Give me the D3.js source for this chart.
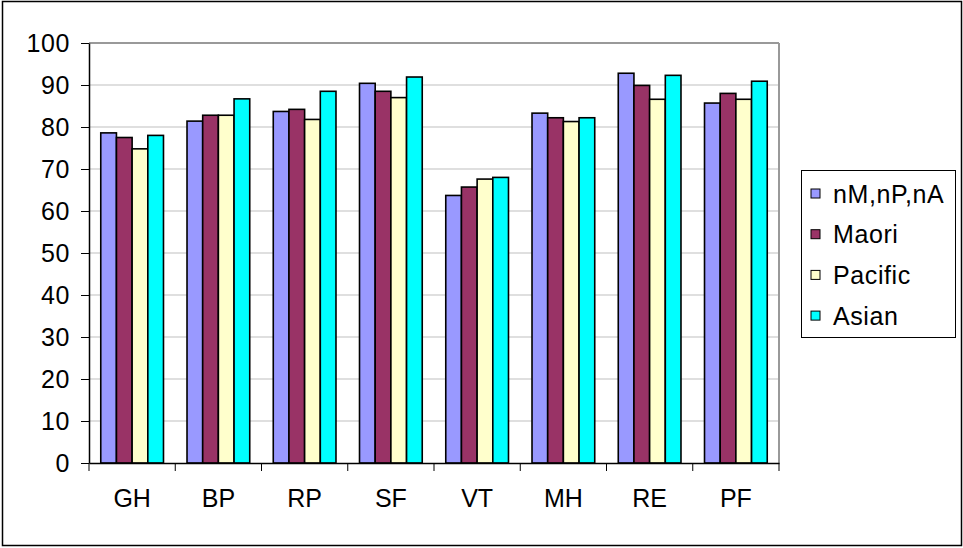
<!DOCTYPE html>
<html>
<head>
  <meta charset="utf-8">
  <title>Chart</title>
  <style>
    body { margin: 0; background: #fff; }
    text { font-family: "Liberation Sans", Arial, sans-serif; fill: #000; }
  </style>
</head>
<body>
  <svg width="963" height="548"></svg>
  <script src="https://cdnjs.cloudflare.com/ajax/libs/d3/7.8.5/d3.min.js"></script>
  <script>
    const categories = ["GH", "BP", "RP", "SF", "VT", "MH", "RE", "PF"];
    const seriesNames = ["nM,nP,nA", "Maori", "Pacific", "Asian"];
    const colors = ["#9999FF", "#993366", "#FFFFCC", "#00FFFF"];
    const nMnPnA = [78.6, 81.4, 83.7, 90.4, 63.7, 83.3, 92.8, 85.7];
    const maori = [77.5, 82.8, 84.2, 88.5, 65.7, 82.2, 89.9, 88.0];
    const pacific = [74.8, 82.8, 81.8, 87.0, 67.6, 81.3, 86.6, 86.6];
    const asian = [78.0, 86.7, 88.5, 91.9, 68.0, 82.2, 92.3, 90.9];
    const yTicks = [0, 10, 20, 30, 40, 50, 60, 70, 80, 90, 100];

    const seriesValues = [nMnPnA, maori, pacific, asian];

    const svg = d3.select("svg");
    const plot = {left: 89, right: 779, top: 43, bottom: 463};

    // chart border
    svg.append("rect")
       .attr("x", 2.5).attr("y", 1.5)
       .attr("width", 959).attr("height", 544)
       .attr("fill", "#fff").attr("stroke", "#000").attr("stroke-width", 1.5);

    const x = d3.scaleBand()
                .domain(categories)
                .range([plot.left, plot.right])
                .paddingInner(0).paddingOuter(0);
    // 150% gap width: 4 bars + 1.5 bar widths of gap
    const x1 = d3.scaleBand()
                 .domain(d3.range(seriesNames.length))
                 .range([0, x.bandwidth()])
                 .paddingInner(0)
                 .paddingOuter(1.5 / 2);
    const y = d3.scaleLinear().domain([0, 100]).range([plot.bottom, plot.top]);

    // gridlines
    svg.append("g")
       .selectAll("line")
       .data(yTicks.filter(d => d > 0))
       .enter().append("line")
       .attr("x1", plot.left).attr("x2", plot.right)
       .attr("y1", d => y(d)).attr("y2", d => y(d))
       .attr("stroke", d => d === 100 ? "#999" : "#c0c0c0")
       .attr("stroke-width", d => d === 100 ? 2 : 1.2);

    // plot area right edge
    svg.append("line")
       .attr("x1", plot.right).attr("x2", plot.right)
       .attr("y1", plot.top).attr("y2", plot.bottom)
       .attr("stroke", "#999").attr("stroke-width", 2);

    // bars
    const groups = svg.append("g")
       .selectAll("g")
       .data(categories)
       .enter().append("g")
       .attr("transform", d => "translate(" + x(d) + ",0)");

    groups.selectAll("rect")
       .data((c, i) => seriesValues.map((s, k) => ({k: k, v: s[i]})))
       .enter().append("rect")
       .attr("x", d => x1(d.k))
       .attr("y", d => y(d.v))
       .attr("width", x1.bandwidth())
       .attr("height", d => y(0) - y(d.v))
       .attr("fill", d => colors[d.k])
       .attr("stroke", "#000")
       .attr("stroke-width", 1.6);

    // y axis
    const yAxis = d3.axisLeft(y).tickValues(yTicks).tickSize(8).tickPadding(11).tickSizeOuter(0);
    const gy = svg.append("g")
       .attr("transform", "translate(" + plot.left + ",0)")
       .call(yAxis);
    gy.selectAll("text").style("font-size", "25px").style("letter-spacing", "0.6px");

    // x axis
    const xAxis = d3.axisBottom(x).tickSize(0).tickPadding(26).tickSizeOuter(0);
    const gx = svg.append("g")
       .attr("transform", "translate(0," + plot.bottom + ")")
       .call(xAxis);
    gx.selectAll("text").style("font-size", "25px");
    // boundary ticks between categories
    gx.selectAll(".bound")
       .data(categories.concat(["end"]))
       .enter().append("line")
       .attr("class", "bound")
       .attr("x1", (d, i) => plot.left + i * x.bandwidth())
       .attr("x2", (d, i) => plot.left + i * x.bandwidth())
       .attr("y1", 0).attr("y2", 8)
       .attr("stroke", "#000");

    svg.selectAll(".domain").attr("stroke", "#000").attr("stroke-width", 1.5);
    svg.selectAll(".tick line").attr("stroke", "#000");

    // legend
    const legend = svg.append("g");
    legend.append("rect")
       .attr("x", 801.5).attr("y", 170.5)
       .attr("width", 154).attr("height", 167)
       .attr("fill", "#fff").attr("stroke", "#000");
    const items = legend.selectAll(".item")
       .data(seriesNames)
       .enter().append("g")
       .attr("class", "item")
       .attr("transform", (d, i) => "translate(811," + (194 + i * 40.7) + ")");
    items.append("rect")
       .attr("x", 0).attr("y", -5)
       .attr("width", 9).attr("height", 9)
       .attr("fill", (d, i) => colors[i])
       .attr("stroke", "#000");
    items.append("text")
       .attr("x", 22).attr("y", 0)
       .attr("dy", "0.35em")
       .style("font-size", "25px")
       .style("letter-spacing", "0.6px")
       .text(d => d);
  </script>
</body>
</html>
